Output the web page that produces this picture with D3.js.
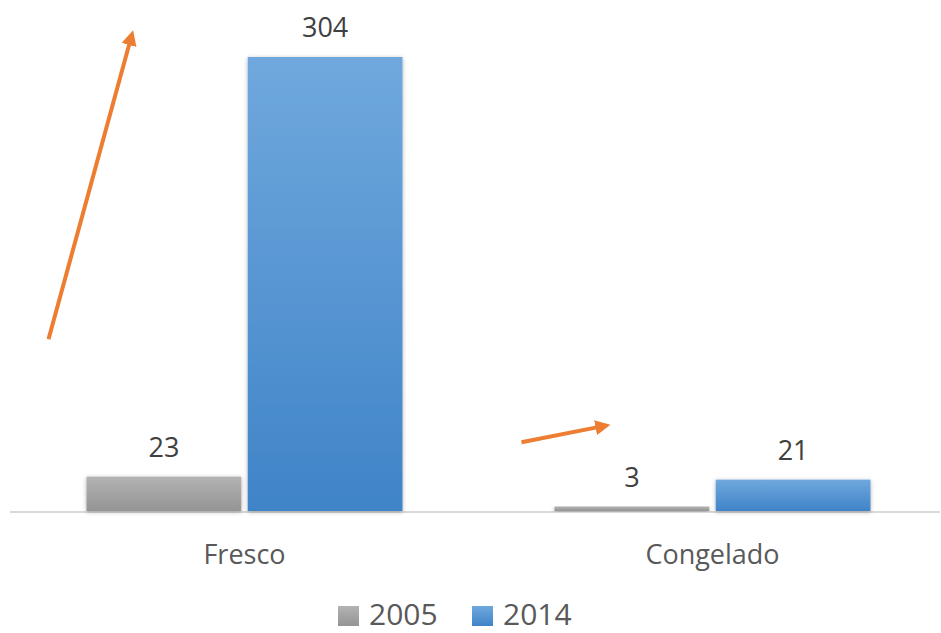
<!DOCTYPE html>
<meta charset="utf-8">
<style>
  body { margin: 0; background: #fff; font-family: "Open Sans", sans-serif; }
</style>
<body>
<script src="https://cdn.jsdelivr.net/npm/d3@7"></script>
<script>
  var categories = ["Fresco", "Congelado"];
  var series = ["2005", "2014"];
  var values2005 = [23, 3];
  var values2014 = [304, 21];

  var width = 941, height = 633;
  var baseline = 511, plotTop = 57;

  var svg = d3.select("body").append("svg")
    .attr("width", width)
    .attr("height", height);

  var defs = svg.append("defs");
  var grads = [
    {id: "g2005", from: "#b3b3b3", to: "#949494"},
    {id: "g2014", from: "#70a8dd", to: "#3f84c8"}
  ];
  grads.forEach(function(g) {
    var lg = defs.append("linearGradient").attr("id", g.id)
      .attr("x1", 0).attr("y1", 0).attr("x2", 0).attr("y2", 1);
    lg.append("stop").attr("offset", "0%").attr("stop-color", g.from);
    lg.append("stop").attr("offset", "100%").attr("stop-color", g.to);
  });
  defs.append("filter").attr("id", "shadow")
    .attr("x", "-10%").attr("y", "-10%").attr("width", "120%").attr("height", "130%")
    .append("feDropShadow")
    .attr("dx", 0).attr("dy", 1).attr("stdDeviation", 2)
    .attr("flood-color", "#000").attr("flood-opacity", 0.3);

  var marker = defs.append("marker").attr("id", "arrow")
    .attr("viewBox", "0 0 10 10").attr("refX", 6).attr("refY", 5)
    .attr("markerWidth", 3.8).attr("markerHeight", 3.8)
    .attr("orient", "auto");
  marker.append("path").attr("d", "M0,0L10,5L0,10z").attr("fill", "#ed7d31");

  var x0 = d3.scaleBand().domain(categories).range([10.5, 946.5]);
  var x1 = d3.scaleBand().domain(series).range([76, 392]).paddingInner(0.04);
  var y = d3.scaleLinear().domain([0, d3.max(values2014)]).range([baseline, plotTop]);

  var data = [];
  categories.forEach(function(c, i) {
    data.push({cat: c, s: "2005", v: values2005[i]});
    data.push({cat: c, s: "2014", v: values2014[i]});
  });

  // axis line
  svg.append("line")
    .attr("x1", 10).attr("x2", 940)
    .attr("y1", baseline + 1).attr("y2", baseline + 1)
    .attr("stroke", "#d9d9d9").attr("stroke-width", 2);

  svg.selectAll(".bar")
    .data(data)
    .enter().append("rect")
    .attr("class", "bar")
    .attr("x", function(d) { return x0(d.cat) + x1(d.s); })
    .attr("width", x1.bandwidth())
    .attr("y", function(d) { return y(d.v); })
    .attr("height", function(d) { return baseline - y(d.v); })
    .attr("fill", function(d) { return "url(#g" + d.s + ")"; })
    .attr("filter", "url(#shadow)");

  svg.selectAll(".lbl")
    .data(data)
    .enter().append("text")
    .attr("class", "lbl")
    .attr("x", function(d) { return x0(d.cat) + x1(d.s) + x1.bandwidth() / 2; })
    .attr("y", function(d) { return y(d.v) - 20; })
    .attr("text-anchor", "middle")
    .style("font-size", "27px")
    .style("fill", "#404040")
    .text(function(d) { return d.v; });

  svg.selectAll(".cat")
    .data(categories)
    .enter().append("text")
    .attr("class", "cat")
    .attr("x", function(d) { return x0(d) + x0.bandwidth() / 2; })
    .attr("y", 564)
    .attr("text-anchor", "middle")
    .style("font-size", "27px")
    .style("fill", "#595959")
    .text(function(d) { return d; });

  // trend arrows (x offset from band start, y in data units)
  var arrows = [
    {cat: "Fresco", x1: 38, v1: 115, x2: 121, v2: 318},
    {cat: "Congelado", x1: 43, v1: 46, x2: 126, v2: 57}
  ];
  svg.selectAll(".arrow")
    .data(arrows)
    .enter().append("line")
    .attr("class", "arrow")
    .attr("x1", function(d) { return x0(d.cat) + d.x1; })
    .attr("y1", function(d) { return y(d.v1); })
    .attr("x2", function(d) { return x0(d.cat) + d.x2; })
    .attr("y2", function(d) { return y(d.v2); })
    .attr("stroke", "#ed7d31")
    .attr("stroke-width", 4)
    .attr("marker-end", "url(#arrow)");

  // legend
  var legend = svg.append("g");
  var legX = [338, 472];
  series.forEach(function(s, i) {
    legend.append("rect")
      .attr("x", legX[i]).attr("y", 606)
      .attr("width", 21).attr("height", 20)
      .attr("fill", "url(#g" + s + ")");
    legend.append("text")
      .attr("x", legX[i] + 31).attr("y", 625)
      .style("font-size", "30px")
      .style("fill", "#595959")
      .text(s);
  });
</script>
</body>
